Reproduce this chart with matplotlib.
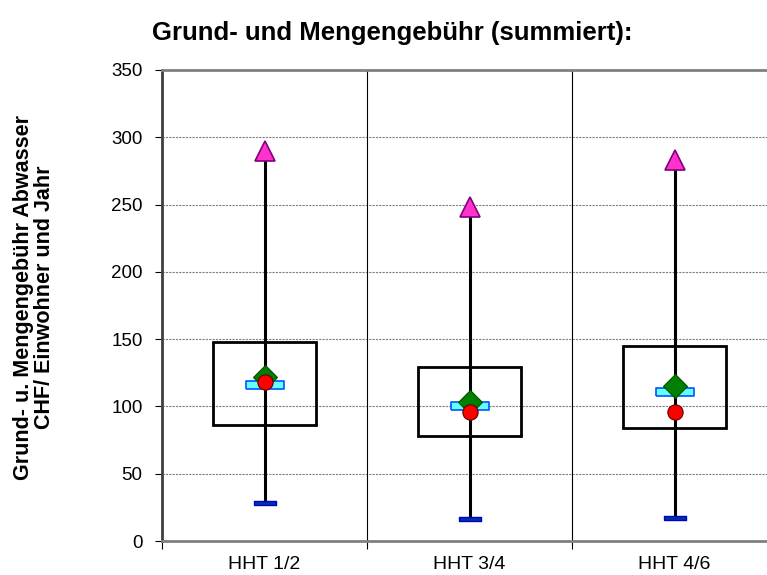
import numpy as np
import matplotlib
matplotlib.use("Agg")
import matplotlib.pyplot as plt

plt.rcParams['font.family'] = ['Liberation Sans', 'DejaVu Sans']

# data
categories = ["HHT 1/2", "HHT 3/4", "HHT 4/6"]
maximum = [290, 248, 283]
q3 = [148, 129, 145]
q1 = [86, 78, 84]
mean_val = [122, 103, 115]
median_val = [116, 100, 111]
circle_val = [118, 96, 96]
minimum = [28, 16, 17]

x = np.arange(len(categories))

fig = plt.figure(figsize=(7.67, 5.75), dpi=100)
ax = fig.add_axes([162 / 767, 34 / 575, 615 / 767, 471 / 575])

# grid lines
for yv in range(50, 350, 50):
    ax.axhline(yv, color='#808080', lw=0.8, ls=(0, (2, 1)), zorder=0)
for xv in [0.5, 1.5]:
    ax.axvline(xv, color='black', lw=0.8, zorder=0)

# whiskers and boxes
ax.vlines(x, minimum, maximum, color='black', lw=2.2, zorder=2)
ax.bar(x, np.array(q3) - np.array(q1), bottom=q1, width=0.5, fill=False,
       edgecolor='black', lw=2, zorder=3)

bar_marker = [(-2.4, -0.5), (2.4, -0.5), (2.4, 0.5), (-2.4, 0.5), (-2.4, -0.5)]
ax.plot(x, median_val, ls='none', marker=bar_marker, ms=27, mfc='#66FFFF',
        mec='#0055FF', mew=1.2, zorder=4)
ax.plot(x, mean_val, ls='none', marker='D', ms=12, mfc='#008000',
        mec='#005000', mew=0.8, zorder=5)
ax.plot(x, circle_val, ls='none', marker='o', ms=11, mfc='#FF0000',
        mec='#600000', mew=0.8, zorder=6)
ax.plot(x, maximum, ls='none', marker='^', ms=14, mfc='#FF33CC',
        mec='#800080', mew=1.2, zorder=5)
ax.plot(x, minimum, ls='none', marker=bar_marker, ms=16, mfc='#0033A0',
        mec='#0000CC', mew=1.0, zorder=5)

ax.set_xlim(-0.5, 2.5)
ax.set_ylim(0, 350)
ax.set_yticks(range(0, 351, 50))
ax.tick_params(axis='y', direction='out', length=5, width=0.8, labelsize=13.5,
               colors='black', pad=9)
ax.set_xticks([-0.5, 0.5, 1.5])
ax.set_xticklabels([])
ax.set_xticks(x, minor=True)
ax.set_xticklabels(categories, minor=True, fontsize=14)
ax.tick_params(axis='x', which='major', direction='out', length=6, width=0.8)
ax.tick_params(axis='x', which='minor', length=0, pad=11)

for side in ['top', 'bottom']:
    ax.spines[side].set_color('#808080')
    ax.spines[side].set_linewidth(2)
ax.spines['left'].set_color('#404040')
ax.spines['left'].set_linewidth(2)
ax.spines['right'].set_visible(False)

fig.text(392 / 767, 1 - 33 / 575, "Grund- und Mengengebühr (summiert):",
         ha='center', va='center', fontsize=18.5, fontweight='bold')
fig.text(34 / 767, 1 - 297 / 575,
         "Grund- u. Mengengebühr Abwasser\nCHF/ Einwohner und Jahr",
         ha='center', va='center', rotation=90, fontsize=15.5,
         fontweight='bold', linespacing=1.05)

fig.savefig("out.png", dpi=100)
